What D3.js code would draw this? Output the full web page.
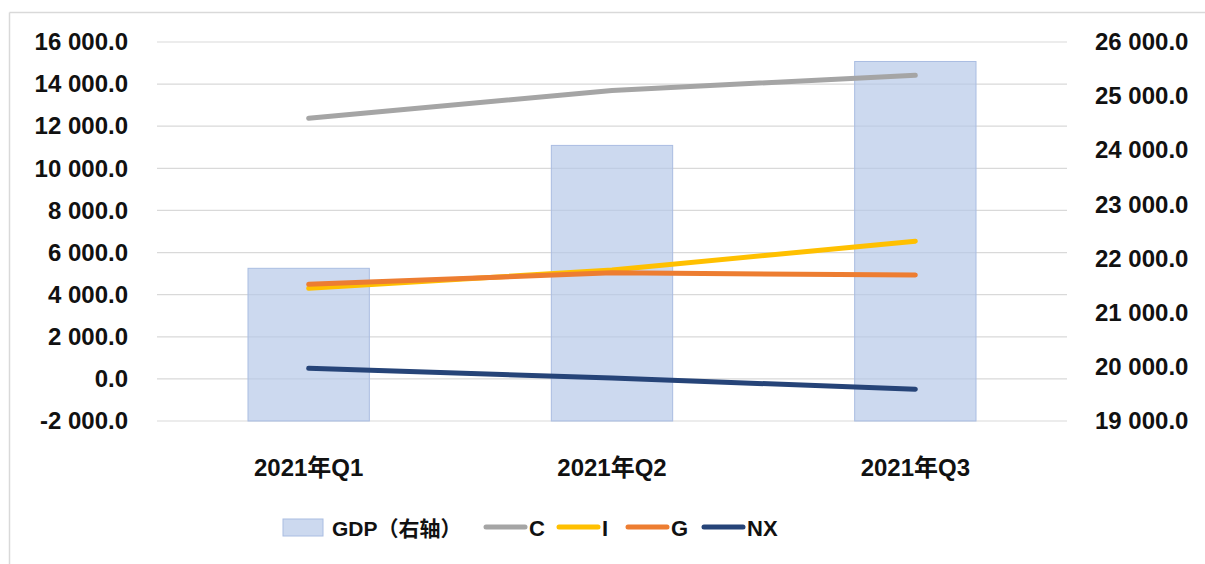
<!DOCTYPE html>
<html lang="zh">
<head>
  <meta charset="UTF-8">
  <title>GDP and components</title>
  <style>
    body {
      margin: 0;
      background: #fff;
      font-family: "Liberation Sans", "Noto Sans CJK SC", sans-serif;
    }
    text { font-weight: bold; fill: #111; }
  </style>
</head>
<body>
<script src="https://d3js.org/d3.v7.min.js"></script>
<script>
  // data
  const quarters = ['2021年Q1', '2021年Q2', '2021年Q3'];
  const gdp = [21820, 24090, 25640];   // right axis
  const consumption = [12380, 13700, 14420];
  const investment = [4300, 5170, 6540];
  const government = [4490, 5040, 4930];
  const netExports = [500, 40, -490];
  const leftTicks = [-2000, 0, 2000, 4000, 6000, 8000, 10000, 12000, 14000, 16000];
  const rightTicks = [19000, 20000, 21000, 22000, 23000, 24000, 25000, 26000];

  const lineSeries = [
    { name: 'C', values: consumption, color: '#a5a5a5' },
    { name: 'I', values: investment, color: '#ffc000' },
    { name: 'G', values: government, color: '#ed7d31' },
    { name: 'NX', values: netExports, color: '#264478' }
  ];

  const width = 1205;
  const height = 564;
  const plotLeft = 157, plotRight = 1067, plotTop = 42, plotBottom = 421;

  const svg = d3.select('body')
    .append('svg')
    .attr('width', width)
    .attr('height', height);

  // frame (only top and left edges show)
  svg.append('line').attr('x1', 9.5).attr('x2', width).attr('y1', 12.5).attr('y2', 12.5)
    .attr('stroke', '#d9d9d9').attr('stroke-width', 1.5);
  svg.append('line').attr('x1', 9.5).attr('x2', 9.5).attr('y1', 12.5).attr('y2', height)
    .attr('stroke', '#d9d9d9').attr('stroke-width', 1.5);

  const x = d3.scaleBand()
    .domain(quarters)
    .range([plotLeft, plotRight])
    .padding(0);

  const yLeft = d3.scaleLinear()
    .domain([-2000, 16000])
    .range([plotBottom, plotTop]);

  const yRight = d3.scaleLinear()
    .domain([19000, 26000])
    .range([plotBottom, plotTop]);

  // "16 000.0" style, plain hyphen for negatives
  const fmt = v => d3.format(',.1f')(v).replace(/,/g, ' ').replace('\u2212', '-');

  // grid lines
  svg.append('g')
    .selectAll('line')
    .data(leftTicks)
    .enter()
    .append('line')
    .attr('x1', plotLeft)
    .attr('x2', plotRight)
    .attr('y1', d => yLeft(d))
    .attr('y2', d => yLeft(d))
    .attr('stroke', '#d9d9d9')
    .attr('stroke-width', 1.2);

  // left axis
  const yAxisLeft = d3.axisLeft(yLeft).tickValues(leftTicks).tickFormat(fmt).tickSize(0).tickPadding(29);
  svg.append('g')
    .attr('transform', 'translate(' + plotLeft + ',0)')
    .call(yAxisLeft)
    .call(g => g.select('.domain').remove())
    .selectAll('text')
    .style('font-size', '24px')
    .style('font-family', '"Liberation Sans", sans-serif');

  // right axis
  const yAxisRight = d3.axisRight(yRight).tickValues(rightTicks).tickFormat(fmt).tickSize(0).tickPadding(28);
  svg.append('g')
    .attr('transform', 'translate(' + plotRight + ',0)')
    .call(yAxisRight)
    .call(g => g.select('.domain').remove())
    .selectAll('text')
    .style('font-size', '24px')
    .style('font-family', '"Liberation Sans", sans-serif');

  // GDP bars
  const barW = x.bandwidth() * 0.4;
  svg.append('g')
    .selectAll('rect')
    .data(gdp)
    .enter()
    .append('rect')
    .attr('x', (d, i) => x(quarters[i]) + x.bandwidth() / 2 - barW / 2)
    .attr('y', d => yRight(d))
    .attr('width', barW)
    .attr('height', d => plotBottom - yRight(d))
    .attr('fill', 'rgba(180, 199, 231, 0.68)')
    .attr('stroke', '#aabde2')
    .attr('stroke-width', 1);

  // x labels
  svg.append('g')
    .selectAll('text')
    .data(quarters)
    .enter()
    .append('text')
    .attr('x', d => x(d) + x.bandwidth() / 2)
    .attr('y', 476)
    .attr('text-anchor', 'middle')
    .style('font-size', '24px')
    .text(d => d);

  // lines
  const line = d3.line()
    .x((d, i) => x(quarters[i]) + x.bandwidth() / 2)
    .y(d => yLeft(d));

  svg.append('g')
    .selectAll('path')
    .data(lineSeries)
    .enter()
    .append('path')
    .attr('d', d => line(d.values))
    .attr('fill', 'none')
    .attr('stroke', d => d.color)
    .attr('stroke-width', 5)
    .attr('stroke-linecap', 'round')
    .attr('stroke-linejoin', 'round');

  // legend
  const legend = svg.append('g');
  legend.append('rect')
    .attr('x', 283).attr('y', 519).attr('width', 40).attr('height', 17)
    .attr('fill', 'rgba(180, 199, 231, 0.68)')
    .attr('stroke', '#aabde2');
  legend.append('text')
    .attr('x', 332).attr('y', 536)
    .style('font-size', '21px')
    .text('GDP（右轴）');

  const legendX = [486, 559, 628, 704];
  lineSeries.forEach((s, i) => {
    legend.append('line')
      .attr('x1', legendX[i]).attr('x2', legendX[i] + 39)
      .attr('y1', 527).attr('y2', 527)
      .attr('stroke', s.color)
      .attr('stroke-width', 5)
      .attr('stroke-linecap', 'round');
    legend.append('text')
      .attr('x', legendX[i] + 43).attr('y', 536)
      .style('font-size', '22px')
      .text(s.name);
  });
</script>
</body>
</html>
